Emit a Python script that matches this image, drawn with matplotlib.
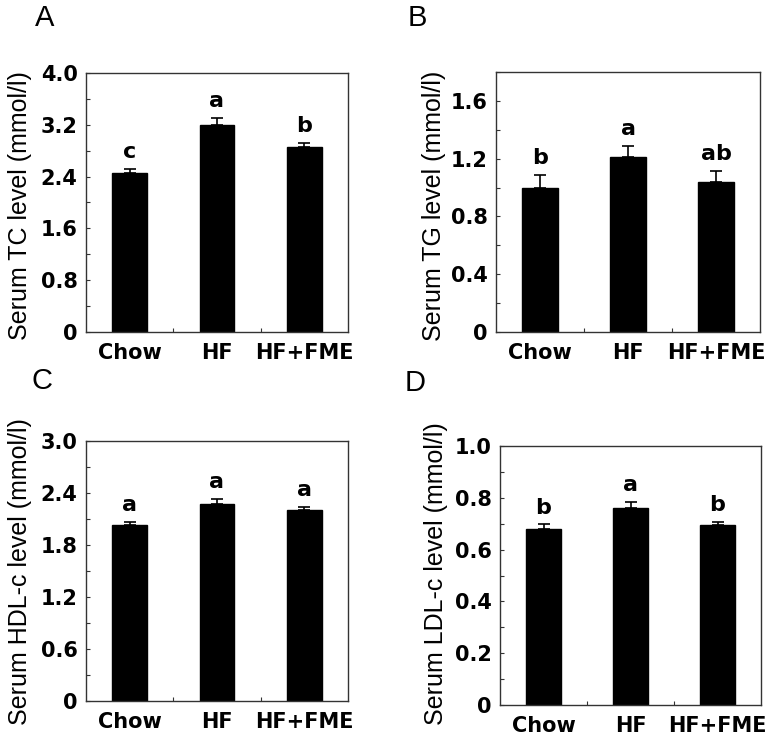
import matplotlib
matplotlib.use("Agg")
import matplotlib.pyplot as plt
from matplotlib.ticker import MultipleLocator, FixedLocator

groups = ["Chow", "HF", "HF+FME"]

tc_mean = [2.46, 3.20, 2.86]
tc_err = [0.06, 0.11, 0.06]
tc_sig = ["c", "a", "b"]

tg_mean = [1.00, 1.21, 1.04]
tg_err = [0.09, 0.08, 0.075]
tg_sig = ["b", "a", "ab"]

hdl_mean = [2.03, 2.27, 2.20]
hdl_err = [0.035, 0.06, 0.04]
hdl_sig = ["a", "a", "a"]

ldl_mean = [0.679, 0.761, 0.694]
ldl_err = [0.018, 0.022, 0.012]
ldl_sig = ["b", "a", "b"]

W, H = 772, 736
fig = plt.figure(figsize=(W / 100, H / 100), dpi=100)

panels = [
    ("A", tc_mean, tc_err, tc_sig, "Serum TC level (mmol/l)", 4.0, 0.8,
     ["0", "0.8", "1.6", "2.4", "3.2", "4.0"], (86, 348, 73, 332), (45, 18), (20, 206)),
    ("B", tg_mean, tg_err, tg_sig, "Serum TG level (mmol/l)", 1.8, 0.4,
     ["0", "0.4", "0.8", "1.2", "1.6"], (496, 760, 72, 332), (417, 18), (434, 206)),
    ("C", hdl_mean, hdl_err, hdl_sig, "Serum HDL-c level (mmol/l)", 3.0, 0.6,
     ["0", "0.6", "1.2", "1.8", "2.4", "3.0"], (86, 348, 441, 701), (42, 381), (20, 572)),
    ("D", ldl_mean, ldl_err, ldl_sig, "Serum LDL-c level (mmol/l)", 1.0, 0.2,
     ["0", "0.2", "0.4", "0.6", "0.8", "1.0"], (500, 761, 446, 705), (415, 383), (436, 574)),
]

spine_col = "#333333"
x = list(range(len(groups)))

for letter, mean, err, sig, ylab, ymax, major, tlabels, box, lpos, ylpos in panels:
    l, r, t, b = box
    ax = fig.add_axes([l / W, 1 - b / H, (r - l) / W, (b - t) / H])
    ax.bar(x, mean, width=0.4, color="black", edgecolor="black", zorder=2)
    ax.errorbar(x, mean, yerr=[[0] * len(err), err], fmt="none", ecolor="black",
                elinewidth=1.2, capsize=4, capthick=1.2, zorder=1)
    ax.set_xlim(-0.5, 2.5)
    ax.set_ylim(0, ymax)
    nt = len(tlabels)
    ax.yaxis.set_major_locator(FixedLocator([i * major for i in range(nt)]))
    ax.set_yticklabels(tlabels)
    ax.yaxis.set_minor_locator(MultipleLocator(major / 2))
    ax.set_xticks(x)
    ax.set_xticklabels(groups)
    ax.xaxis.set_minor_locator(FixedLocator([0.5, 1.5]))
    ax.tick_params(axis="x", which="major", length=0, pad=8)
    ax.tick_params(axis="x", which="minor", direction="in", length=3, width=0.8, color=spine_col)
    ax.tick_params(axis="y", which="both", direction="in", length=3, width=0.8, color=spine_col, pad=6)
    ax.tick_params(axis="both", which="both", right=False, top=False)
    for lab in ax.get_xticklabels() + ax.get_yticklabels():
        lab.set_fontfamily("DejaVu Sans")
        lab.set_fontweight("bold")
        lab.set_fontsize(15)
    for sp in ax.spines.values():
        sp.set_color(spine_col)
        sp.set_linewidth(1.0)
    for xi, m, e, s in zip(x, mean, err, sig):
        ax.annotate(s, (xi, m + e), xytext=(0, 5), textcoords="offset points",
                    ha="center", va="bottom", fontfamily="DejaVu Sans",
                    fontweight="bold", fontsize=16)
    fig.text(lpos[0] / W, 1 - lpos[1] / H, letter, fontfamily="Liberation Sans",
             fontsize=21, ha="center", va="center")
    fig.text(ylpos[0] / W, 1 - ylpos[1] / H, ylab, fontfamily="Liberation Sans",
             fontsize=18, rotation=90, ha="center", va="center")

fig.savefig("out.png", dpi=100)
